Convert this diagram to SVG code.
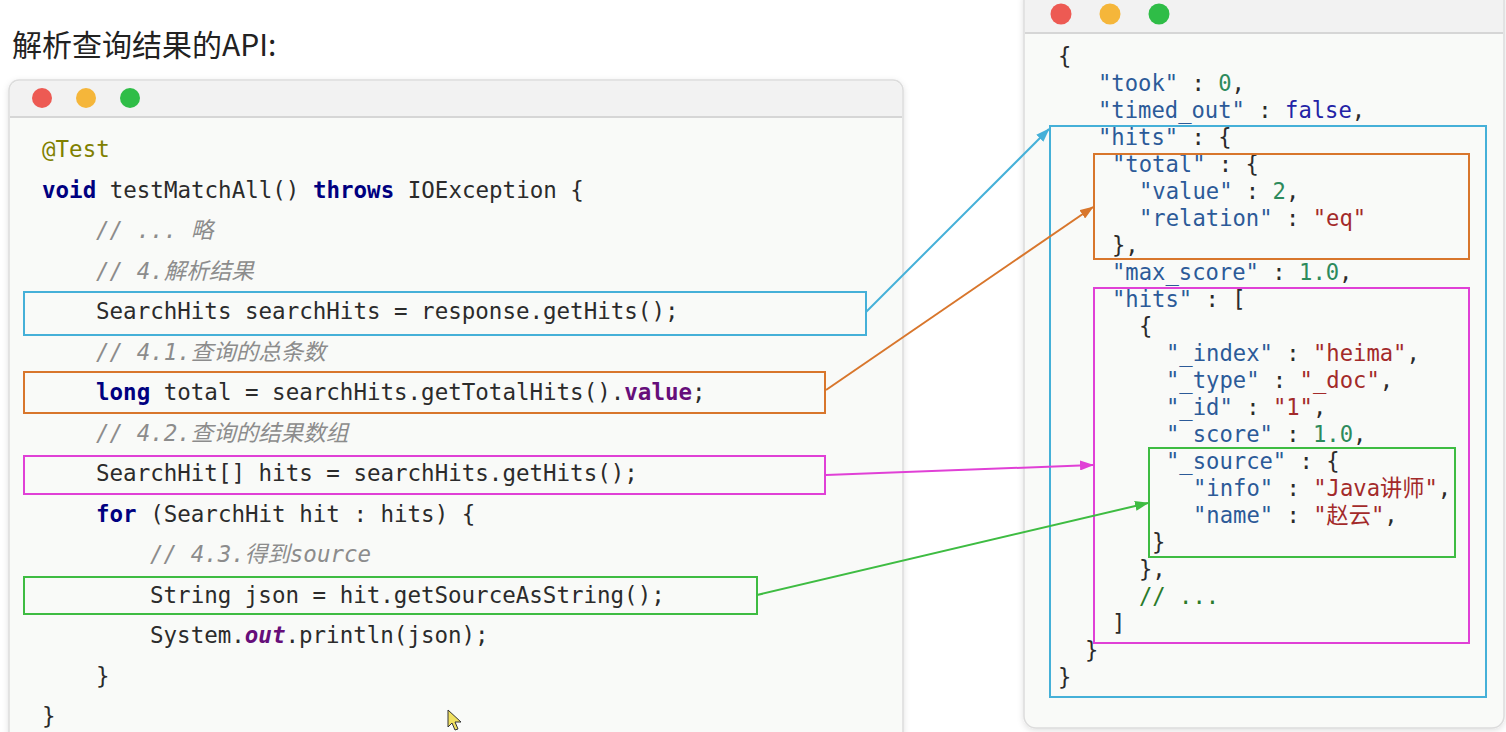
<svg xmlns="http://www.w3.org/2000/svg" width="1506" height="732" viewBox="0 0 1506 732">
<style>
.win{fill:#f9faf8;stroke:#dcdcdc;stroke-width:1.5}
.bar{fill:#f2f2f2}
.sep{stroke:#d6d6d6;stroke-width:2}
.code{font-family:"DejaVu Sans Mono","Noto Sans CJK SC",monospace;font-size:22.5px;fill:#2b2b2b}
.json{font-family:"DejaVu Sans Mono","Noto Sans CJK SC",monospace;font-size:22.2px;fill:#2b2b2b}
.kw{font-weight:bold;fill:#000080}
.ann{fill:#808000}
.cm{font-style:italic;fill:#8c8c8c}
.fld{font-weight:bold;fill:#660e7a}
.key{fill:#2c5a98}
.str{fill:#a32a2a}
.num{fill:#2d8a5c}
.bool{fill:#2323a6}
.jcm{fill:#2a7a2a}
.hb{fill:none;stroke-width:2}
.blue{stroke:#45b0d8}
.orange{stroke:#d8762c}
.mag{stroke:#e040d6}
.green{stroke:#3ebc42}
.title{font-family:"Noto Sans CJK SC","Noto Sans",sans-serif;font-size:30px;fill:#222}
</style>
<defs>
<filter id="sh" x="-5%" y="-5%" width="110%" height="110%"><feDropShadow dx="0" dy="2" stdDeviation="3" flood-color="#000" flood-opacity="0.12"/></filter>
<marker id="aBlue" markerUnits="userSpaceOnUse" markerWidth="14" markerHeight="10" refX="13" refY="5" orient="auto"><path d="M0,0 L14,5 L0,10 z" fill="#45b0d8"/></marker>
<marker id="aOrange" markerUnits="userSpaceOnUse" markerWidth="14" markerHeight="10" refX="13" refY="5" orient="auto"><path d="M0,0 L14,5 L0,10 z" fill="#d8762c"/></marker>
<marker id="aMag" markerUnits="userSpaceOnUse" markerWidth="14" markerHeight="10" refX="13" refY="5" orient="auto"><path d="M0,0 L14,5 L0,10 z" fill="#e040d6"/></marker>
<marker id="aGreen" markerUnits="userSpaceOnUse" markerWidth="14" markerHeight="10" refX="13" refY="5" orient="auto"><path d="M0,0 L14,5 L0,10 z" fill="#3ebc42"/></marker>
</defs>
<rect width="1506" height="732" fill="#ffffff"/>
<text class="title" x="12" y="56">解析查询结果的API:</text>

<g id="code-window">
<rect class="win" x="9" y="80" width="894" height="680" rx="10" filter="url(#sh)"/>
<path class="bar" d="M19,81 H893 A9,9 0 0 1 902,90 V117 H10 V90 A9,9 0 0 1 19,81 z"/>
<line class="sep" x1="10" y1="117" x2="902" y2="117"/>
<circle cx="42" cy="98" r="10" fill="#ed5a53"/>
<circle cx="86" cy="98" r="10" fill="#f5b63a"/>
<circle cx="130" cy="98" r="10" fill="#2fbd47"/>
<text class="code" x="42" y="157"><tspan class="ann">@Test</tspan></text>
<text class="code" x="42" y="198"><tspan class="kw">void</tspan> testMatchAll() <tspan class="kw">throws</tspan> IOException {</text>
<text class="code cm" x="96" y="238">// ... 略</text>
<text class="code cm" x="96" y="279">// 4.解析结果</text>
<text class="code" x="96" y="319">SearchHits searchHits = response.getHits();</text>
<text class="code cm" x="96" y="360">// 4.1.查询的总条数</text>
<text class="code" x="96" y="400"><tspan class="kw">long</tspan> total = searchHits.getTotalHits().<tspan class="fld">value</tspan>;</text>
<text class="code cm" x="96" y="441">// 4.2.查询的结果数组</text>
<text class="code" x="96" y="481">SearchHit[] hits = searchHits.getHits();</text>
<text class="code" x="96" y="522"><tspan class="kw">for</tspan> (SearchHit hit : hits) {</text>
<text class="code cm" x="150" y="562">// 4.3.得到source</text>
<text class="code" x="150" y="603">String json = hit.getSourceAsString();</text>
<text class="code" x="150" y="643">System.<tspan class="fld" font-style="italic">out</tspan>.println(json);</text>
<text class="code" x="96" y="684">}</text>
<text class="code" x="42" y="724">}</text>
</g>

<g id="code-highlights">
<rect id="hl-searchhits" class="hb blue" x="24" y="292" width="842" height="43"/>
<rect id="hl-total" class="hb orange" x="24" y="372" width="801" height="41"/>
<rect id="hl-hits" class="hb mag" x="24" y="456" width="801" height="38"/>
<rect id="hl-source" class="hb green" x="24" y="577" width="733" height="37"/>
</g>

<g id="json-window">
<rect class="win" x="1024" y="-12" width="480" height="740" rx="12" filter="url(#sh)"/>
<path class="bar" d="M1025,-11 H1503 V33 H1025 z"/>
<line class="sep" x1="1025" y1="33" x2="1503" y2="33"/>
<circle cx="1061" cy="14" r="10.5" fill="#ed5a53"/>
<circle cx="1110" cy="14" r="10.5" fill="#f5b63a"/>
<circle cx="1159" cy="14" r="10.5" fill="#2fbd47"/>
<text class="json" x="1058" y="64">{</text>
<text class="json" x="1098" y="91"><tspan class="key">"took"</tspan> : <tspan class="num">0</tspan>,</text>
<text class="json" x="1098" y="118"><tspan class="key">"timed_out"</tspan> : <tspan class="bool">false</tspan>,</text>
<text class="json" x="1098" y="145"><tspan class="key">"hits"</tspan> : {</text>
<text class="json" x="1112" y="172"><tspan class="key">"total"</tspan> : {</text>
<text class="json" x="1139" y="199"><tspan class="key">"value"</tspan> : <tspan class="num">2</tspan>,</text>
<text class="json" x="1139" y="226"><tspan class="key">"relation"</tspan> : <tspan class="str">"eq"</tspan></text>
<text class="json" x="1112" y="253">},</text>
<text class="json" x="1112" y="280"><tspan class="key">"max_score"</tspan> : <tspan class="num">1.0</tspan>,</text>
<text class="json" x="1112" y="307"><tspan class="key">"hits"</tspan> : [</text>
<text class="json" x="1139" y="334">{</text>
<text class="json" x="1166" y="361"><tspan class="key">"_index"</tspan> : <tspan class="str">"heima"</tspan>,</text>
<text class="json" x="1166" y="388"><tspan class="key">"_type"</tspan> : <tspan class="str">"_doc"</tspan>,</text>
<text class="json" x="1166" y="415"><tspan class="key">"_id"</tspan> : <tspan class="str">"1"</tspan>,</text>
<text class="json" x="1166" y="442"><tspan class="key">"_score"</tspan> : <tspan class="num">1.0</tspan>,</text>
<text class="json" x="1166" y="469"><tspan class="key">"_source"</tspan> : {</text>
<text class="json" x="1193" y="496"><tspan class="key">"info"</tspan> : <tspan class="str">"Java讲师"</tspan>,</text>
<text class="json" x="1193" y="523"><tspan class="key">"name"</tspan> : <tspan class="str">"赵云"</tspan>,</text>
<text class="json" x="1152" y="550">}</text>
<text class="json" x="1139" y="577">},</text>
<text class="json jcm" x="1139" y="604">// ...</text>
<text class="json" x="1112" y="631">]</text>
<text class="json" x="1085" y="658">}</text>
<text class="json" x="1058" y="685">}</text>
</g>

<g id="json-highlights">
<rect id="box-hits" class="hb blue" x="1050" y="126" width="436" height="571"/>
<rect id="box-total" class="hb orange" x="1094" y="154" width="375" height="105"/>
<rect id="box-hitsarr" class="hb mag" x="1094" y="288" width="375" height="355"/>
<rect id="box-source" class="hb green" x="1149" y="448" width="306" height="109"/>
</g>

<g id="connectors" fill="none" stroke-width="2">
<line class="blue" x1="866" y1="312" x2="1049" y2="129" marker-end="url(#aBlue)"/>
<line class="orange" x1="826" y1="390" x2="1093" y2="207" marker-end="url(#aOrange)"/>
<line class="mag" x1="826" y1="475" x2="1093" y2="465" marker-end="url(#aMag)"/>
<line class="green" x1="757" y1="595" x2="1148" y2="503" marker-end="url(#aGreen)"/>
</g>

<g id="cursor">
<path d="M448,710 L448,727 L452,723 L455,730 L458,729 L455,722 L461,722 z" fill="#f0e060" stroke="#333" stroke-width="1"/>
</g>
</svg>
